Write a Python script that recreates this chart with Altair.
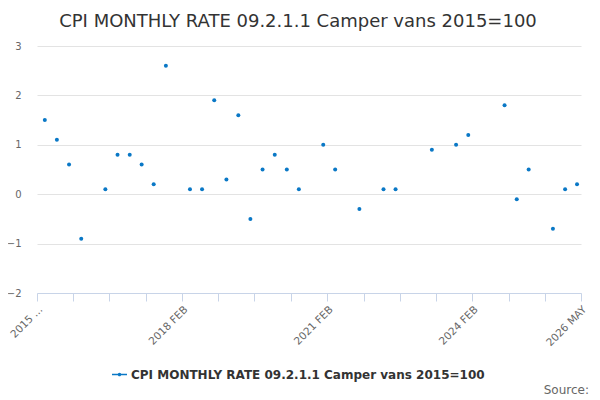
import altair as alt
import pandas as pd

series_name = "CPI MONTHLY RATE 09.2.1.1 Camper vans 2015=100"

dates = [
    "2015-04-01", "2015-07-01", "2015-10-01", "2016-01-01",
    "2016-07-01", "2016-10-01", "2017-01-01", "2017-04-01", "2017-07-01", "2017-10-01",
    "2018-04-01", "2018-07-01", "2018-10-01", "2019-01-01", "2019-04-01", "2019-07-01",
    "2019-10-01", "2020-01-01", "2020-04-01", "2020-07-01",
    "2021-01-01", "2021-04-01", "2021-10-01", "2022-04-01", "2022-07-01",
    "2023-04-01", "2023-10-01", "2024-01-01", "2024-10-01", "2025-01-01", "2025-04-01",
    "2025-10-01", "2026-01-01", "2026-04-01",
]
values = [
    1.5, 1.1, 0.6, -0.9,
    0.1, 0.8, 0.8, 0.6, 0.2, 2.6,
    0.1, 0.1, 1.9, 0.3, 1.6, -0.5,
    0.5, 0.8, 0.5, 0.1,
    1.0, 0.5, -0.3, 0.1, 0.1,
    0.9, 1.0, 1.2, 1.8, -0.1, 0.5,
    -0.7, 0.1, 0.2,
]

tick_dates = [
    "2015-02-01", "2015-11-01", "2016-08-01", "2017-05-01", "2018-02-01", "2018-11-01",
    "2019-08-01", "2020-05-01", "2021-02-01", "2021-11-01", "2022-08-01", "2023-05-01",
    "2024-02-01", "2024-11-01", "2025-08-01", "2026-05-01",
]
tick_labels = [
    "2015 ...", "", "", "", "2018 FEB", "", "", "", "2021 FEB", "", "", "",
    "2024 FEB", "", "", "2026 MAY",
]
y_ticks = [-2, -1, 0, 1, 2, 3]

df = pd.DataFrame({"date": dates, "value": values, "series": series_name})

label_map = "{" + ",".join(
    f"'{d[:7]}':'{l}'" for d, l in zip(tick_dates, tick_labels)
) + "}"
label_expr = f"{label_map}[utcFormat(datum.value, '%Y-%m')]"

tick_vals = [
    alt.DateTime(year=int(d[:4]), month=int(d[5:7]), date=1, utc=True) for d in tick_dates
]

font = "DejaVu Sans"
blue = "#0a78c6"

legend_path = (
    "M-1,-0.09H1V0.09H-1Z "
    "M0.24,0A0.24,0.24 0 1,1 -0.24,0A0.24,0.24 0 1,1 0.24,0Z"
)

points = alt.Chart(df).mark_point(filled=True, size=16, opacity=1).encode(
    x=alt.X(
        "date:T",
        scale=alt.Scale(
            type="utc",
            domain=[
                alt.DateTime(year=2015, month=2, date=1, utc=True),
                alt.DateTime(year=2026, month=5, date=1, utc=True),
            ],
        ),
        axis=alt.Axis(
            values=tick_vals,
            labelExpr=label_expr,
            labelAngle=-45,
            labelAlign="right",
            labelBaseline="top",
            labelColor="#666666",
            labelFont=font,
            labelFontSize=10.5,
            labelPadding=3,
            tickColor="#c8d4e8",
            tickSize=8,
            domainColor="#c8d4e8",
            grid=False,
            title=None,
            labelOverlap=False,
            labelFlush=False,
        ),
    ),
    y=alt.Y(
        "value:Q",
        scale=alt.Scale(domain=[-2, 3], nice=False, zero=False),
        axis=alt.Axis(
            values=y_ticks,
            labelColor="#666666",
            labelFont=font,
            labelFontSize=10,
            labelPadding=16,
            domain=False,
            ticks=False,
            gridColor="#e3e3e3",
            title=None,
        ),
    ),
    color=alt.Color(
        "series:N",
        scale=alt.Scale(range=[blue]),
        legend=alt.Legend(
            title=None,
            orient="none",
            legendX=75,
            legendY=321,
            symbolType=legend_path,
            symbolSize=225,
            symbolStrokeWidth=0,
            labelFont=font,
            labelFontSize=12,
            labelFontWeight="bold",
            labelColor="#333333",
            labelLimit=500,
        ),
    ),
)

source = alt.Chart(pd.DataFrame({"t": ["Source:"]})).mark_text(
    align="right", baseline="alphabetic", font=font, fontSize=12, color="#666666"
).encode(
    text="t:N",
    x=alt.value(552),
    y=alt.value(348),
)

chart = alt.layer(points, source).properties(
    width=544,
    height=247,
    autosize=alt.AutoSizeParams(type="none"),
    padding={"left": 29, "top": 38, "right": 11, "bottom": 106},
    title=alt.TitleParams(
        series_name,
        font=font,
        fontSize=18,
        fontWeight="normal",
        color="#333333",
        anchor="middle",
        dx=-11,
        offset=10,
    ),
).configure_view(stroke=None)

chart.save("out.html", embed_options={"renderer": "svg", "actions": False})
